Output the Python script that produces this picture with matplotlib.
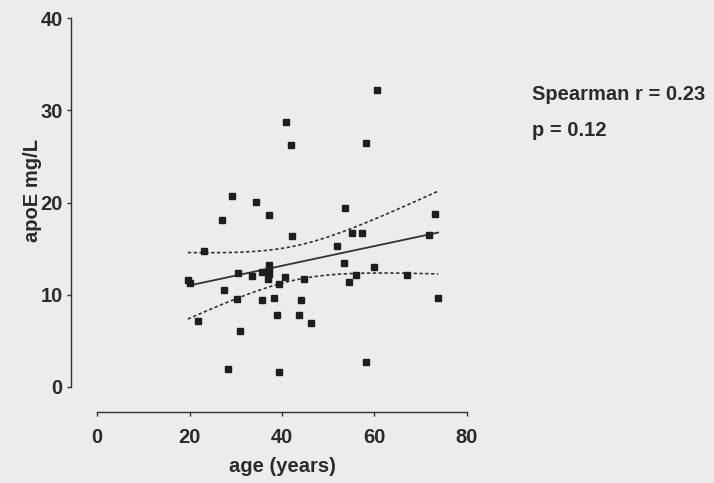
import numpy as np
import matplotlib
matplotlib.use("Agg")
import matplotlib.pyplot as plt

age = [40.8, 42.0, 29.2, 34.4, 37.2, 27.1, 23.0, 42.2, 60.5, 58.1,
       53.7, 73.1, 55.1, 57.4, 71.9, 51.9, 53.5, 60.0, 40.6, 44.8,
       56.1, 67.0, 54.6, 44.1, 73.8, 43.7, 46.3, 58.2, 19.6, 20.1,
       30.5, 33.5, 35.7, 37.2, 37.2, 37.2, 37.0, 39.4, 27.5, 30.3,
       35.6, 38.2, 39.0, 21.9, 31.0, 28.4, 39.3]
apoe = [28.7, 26.2, 20.7, 20.1, 18.6, 18.1, 14.7, 16.4, 32.2, 26.5,
        19.4, 18.8, 16.7, 16.7, 16.5, 15.3, 13.4, 13.0, 11.9, 11.7,
        12.1, 12.1, 11.4, 9.4, 9.65, 7.85, 6.9, 2.7, 11.6, 11.3,
        12.4, 12.0, 12.5, 13.2, 12.8, 12.3, 11.7, 11.2, 10.5, 9.5,
        9.4, 9.7, 7.8, 7.2, 6.1, 2.0, 1.6]
x_ticks = [0, 20, 40, 60, 80]
y_ticks = [0, 10, 20, 30, 40]
stats_lines = ["Spearman r = 0.23", "p = 0.12"]

plt.rcParams['font.family'] = ['Liberation Sans', 'DejaVu Sans']
bg = '#ececec'
tc = '#2b2b2b'
fs = 14.5

fig = plt.figure(figsize=(7.14, 4.83), dpi=100, facecolor=bg)
ax = fig.add_axes([97.3 / 714, 96 / 483, 369.4 / 714, 369 / 483])
ax.set_facecolor(bg)

x = np.array(age)
y = np.array(apoe)
n = len(x)
b, a = np.polyfit(x, y, 1)
xs = np.linspace(x.min(), x.max(), 200)
yfit = a + b * xs
resid = y - (a + b * x)
s = np.sqrt(np.sum(resid ** 2) / (n - 2))
sxx = np.sum((x - x.mean()) ** 2)
t = 2.014
half = t * s * np.sqrt(1 / n + (xs - x.mean()) ** 2 / sxx)

ax.plot(xs, yfit, color='#333333', lw=1.3)
ax.plot(xs, yfit + half, color='#333333', lw=1.2, ls=(0, (2, 1.5)))
ax.plot(xs, yfit - half, color='#333333', lw=1.2, ls=(0, (2, 1.5)))
ax.plot(x, y, 's', color='#1e1e1e', ms=4.2, mec='#1e1e1e', ls='none', clip_on=False)

ax.set_xlim(0, 80)
ax.set_ylim(0, 40)
ax.set_xticks(x_ticks)
ax.set_yticks(y_ticks)
for sp in ['top', 'right']:
    ax.spines[sp].set_visible(False)
ax.spines['left'].set_position(('outward', 26.3 * 0.72))
ax.spines['bottom'].set_position(('outward', 24.7 * 0.72))
for sp in ['left', 'bottom']:
    ax.spines[sp].set_color('#333333')
    ax.spines[sp].set_linewidth(1.0)
ax.tick_params(axis='both', direction='out', length=3, width=1.0, color='#333333',
               labelsize=fs, labelcolor=tc)
ax.tick_params(axis='y', pad=3)
ax.tick_params(axis='x', pad=8.5)
for lab in ax.get_xticklabels() + ax.get_yticklabels():
    lab.set_fontweight('bold')

ax.set_xlabel('age (years)', fontsize=fs, fontweight='bold', color=tc, va='center')
ax.xaxis.set_label_coords(282 / 714, 1 - 467 / 483, transform=fig.transFigure)
ax.set_ylabel('apoE mg/L', fontsize=fs, fontweight='bold', color=tc, va='center')
ax.yaxis.set_label_coords(33 / 714, 1 - 190 / 483, transform=fig.transFigure)

fig.text(532 / 714, 1 - 100 / 483, stats_lines[0], fontsize=fs, fontweight='bold',
         color=tc, ha='left', va='baseline')
fig.text(532 / 714, 1 - 136 / 483, stats_lines[1], fontsize=fs, fontweight='bold',
         color=tc, ha='left', va='baseline')

fig.savefig('out.png', dpi=100, facecolor=bg)
